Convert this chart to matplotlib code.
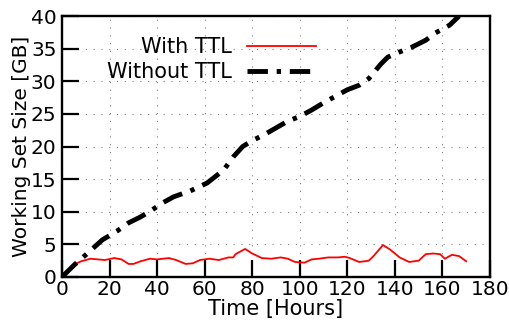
import matplotlib.pyplot as plt

# Working set size over time (hours -> GB)
t_ttl = [0, 3, 5, 8, 12, 15, 18, 22, 25, 28, 30, 33, 37, 40, 45, 48, 52, 55, 58, 62,
         66, 70, 72, 73, 77, 80, 84, 88, 92, 95, 98, 102, 105, 108, 112, 116, 119,
         121, 125, 129, 131, 135, 138, 142, 146, 150, 153, 156, 159, 161, 164, 167, 170]
ws_ttl = [0.3, 1.2, 1.9, 2.4, 2.8, 2.7, 2.6, 2.9, 2.7, 2.0, 2.0, 2.4, 2.8, 2.7, 2.9, 2.6,
          2.0, 2.1, 2.6, 2.8, 2.6, 3.0, 3.0, 3.5, 4.3, 3.6, 2.9, 2.8, 3.0, 2.8, 2.3, 2.2,
          2.7, 2.8, 3.0, 3.0, 3.1, 2.9, 2.3, 2.5, 3.2, 4.9, 4.2, 3.0, 2.3, 2.5, 3.5, 3.6,
          3.5, 2.8, 3.4, 3.2, 2.4]

t_nottl = [0, 5, 10, 17, 23, 28, 33, 38, 42, 47, 54, 61, 68, 72, 76, 80, 85, 95, 100,
           105, 110, 115, 120, 125, 129, 134, 137, 142, 147, 153, 157, 163, 167]
ws_nottl = [0, 1.8, 3.4, 5.7, 7.0, 8.3, 9.2, 10.3, 11.3, 12.3, 13.2, 14.4, 16.4, 18.4,
            20.0, 20.9, 21.8, 23.9, 24.6, 25.6, 26.7, 27.7, 28.7, 29.4, 30.4, 32.6, 33.7,
            34.5, 35.2, 36.3, 37.4, 38.6, 40.0]

fig = plt.figure(figsize=(5.1, 3.22), dpi=100)
ax = fig.add_axes([0.1216, 0.1398, 0.8392, 0.8104])

ax.plot(t_ttl, ws_ttl, color='red', lw=1.3, label='With TTL')
ax.plot(t_nottl, ws_nottl, color='black', lw=3.5, dashes=(4.2, 1.8, 0.9, 1.8),
        dash_capstyle='butt', label='Without TTL')

ax.set_xlim(0, 180)
ax.set_ylim(0, 40)
ax.set_xticks(range(0, 181, 20))
ax.set_yticks(range(0, 41, 5))
ax.tick_params(direction='in', length=12, width=1.6, labelsize=14.5,
               top=False, right=False)
ax.tick_params(axis='x', pad=2)
ax.tick_params(axis='y', pad=4)
for s in ax.spines.values():
    s.set_linewidth(1.7)

ax.grid(True, color='gray', linestyle=(0, (1, 6)), linewidth=0.8)

ax.set_xlabel('Time [Hours]', fontsize=15, labelpad=0)
ax.set_ylabel('Working Set Size [GB]', fontsize=14.5, labelpad=0)

ax.legend(loc='upper right', bbox_to_anchor=(0.617, 0.96), frameon=False,
          markerfirst=False, fontsize=15, handlelength=3.3, labelspacing=0.25,
          borderpad=0, handletextpad=0.7)

fig.savefig('out.png', dpi=100)
